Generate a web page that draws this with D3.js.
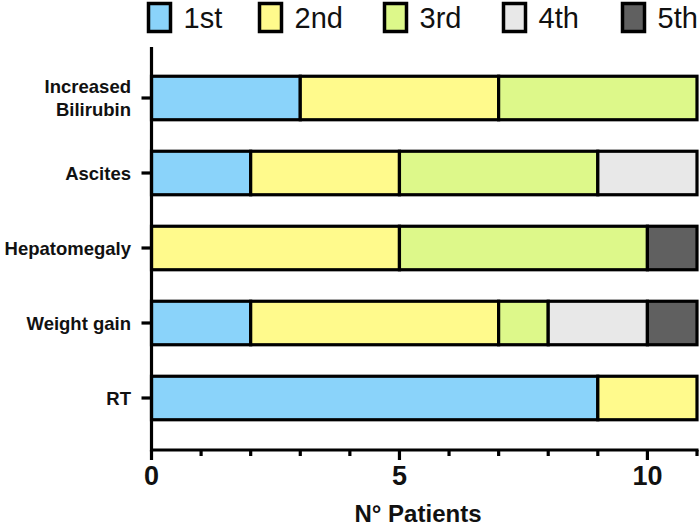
<!DOCTYPE html>
<html><head><meta charset="utf-8">
<script src="https://cdn.jsdelivr.net/npm/d3@7"></script>
<style>body{margin:0;background:#fff}svg{display:block;font-family:Arial,"Liberation Sans",sans-serif}</style>
</head><body>
<svg id="c" width="700" height="526"></svg>
<script>
const categories = ["Increased\nBilirubin","Ascites","Hepatomegaly","Weight gain","RT"];
const grades = ["1st","2nd","3rd","4th","5th"];
const s1st = [3,2,0,2,9];
const s2nd = [4,3,5,5,2];
const s3rd = [4,4,5,1,0];
const s4th = [0,2,0,2,0];
const s5th = [0,0,1,1,0];
const colors = ["#8AD3FA","#FFFA8C","#DDF88A","#E8E8E8","#606060"];
const xTicksMajor = [0,5,10];
const xTicksMinor = [0,1,2,3,4,5,6,7,8,9,10,11];

const rows = categories.map((c,i)=>({cat:c,"1st":s1st[i],"2nd":s2nd[i],"3rd":s3rd[i],"4th":s4th[i],"5th":s5th[i]}));
const stack = d3.stack().keys(grades)(rows);

const svg = d3.select("#c");
const x = d3.scaleLinear().domain([0,11]).range([151.5,697]);
const y = d3.scaleBand().domain(categories).range([60.5,435.5]).paddingInner(0.42).paddingOuter(0.21);
const color = d3.scaleOrdinal().domain(grades).range(colors);

// bars
svg.append("g").selectAll("g").data(stack).join("g")
  .attr("fill", d=>color(d.key))
  .selectAll("rect").data(d=>d.filter(s=>s[1]-s[0]>0)).join("rect")
  .attr("x", d=>x(d[0])).attr("width", d=>x(d[1])-x(d[0]))
  .attr("y", d=>y(d.data.cat)).attr("height", y.bandwidth())
  .attr("stroke","#000").attr("stroke-width",3.2);

// y axis
const ya = svg.append("g");
ya.append("line").attr("x1",x(0)).attr("x2",x(0)).attr("y1",47).attr("y2",451.5).attr("stroke","#000").attr("stroke-width",3.2);
categories.forEach(c=>{
  const cy = y(c)+y.bandwidth()/2;
  ya.append("line").attr("x1",x(0)-10).attr("x2",x(0)).attr("y1",cy).attr("y2",cy).attr("stroke","#000").attr("stroke-width",3.2);
  const lines = c.split("\n");
  const t = ya.append("text").attr("text-anchor","end").attr("font-weight","bold").attr("font-size",18.5).attr("fill","#111");
  lines.forEach((ln,k)=>{
    t.append("tspan").attr("x",131).attr("y", cy + 6.5 + (k-(lines.length-1)/2)*23.5).text(ln);
  });
});

// x axis
const xa = svg.append("g");
xa.append("line").attr("x1",x(0)-1.5).attr("x2",x(11)+1.5).attr("y1",450).attr("y2",450).attr("stroke","#000").attr("stroke-width",3.2);
xTicksMinor.forEach(v=>{
  const major = xTicksMajor.includes(v);
  xa.append("line").attr("x1",x(v)).attr("x2",x(v)).attr("y1",450).attr("y2",major?460:456).attr("stroke","#000").attr("stroke-width",3.2);
});
xTicksMajor.forEach(v=>{
  xa.append("text").attr("x",x(v)).attr("y",485).attr("text-anchor","middle").attr("font-weight","bold").attr("font-size",27).attr("fill","#111").text(v);
});
svg.append("text").attr("x",418).attr("y",522).attr("text-anchor","middle").attr("font-weight","bold").attr("font-size",24).attr("fill","#111").text("N° Patients");

// legend
const legX = [148.5,259.5,384.5,503.5,622.5];
const lg = svg.append("g");
grades.forEach((g,i)=>{
  lg.append("rect").attr("x",legX[i]).attr("y",3.5).attr("width",22).attr("height",28)
    .attr("fill",color(g)).attr("stroke","#000").attr("stroke-width",3.5);
  lg.append("text").attr("x",legX[i]+35).attr("y",27.5).attr("font-size",29).attr("fill","#111").text(g);
});
</script>
</body></html>
